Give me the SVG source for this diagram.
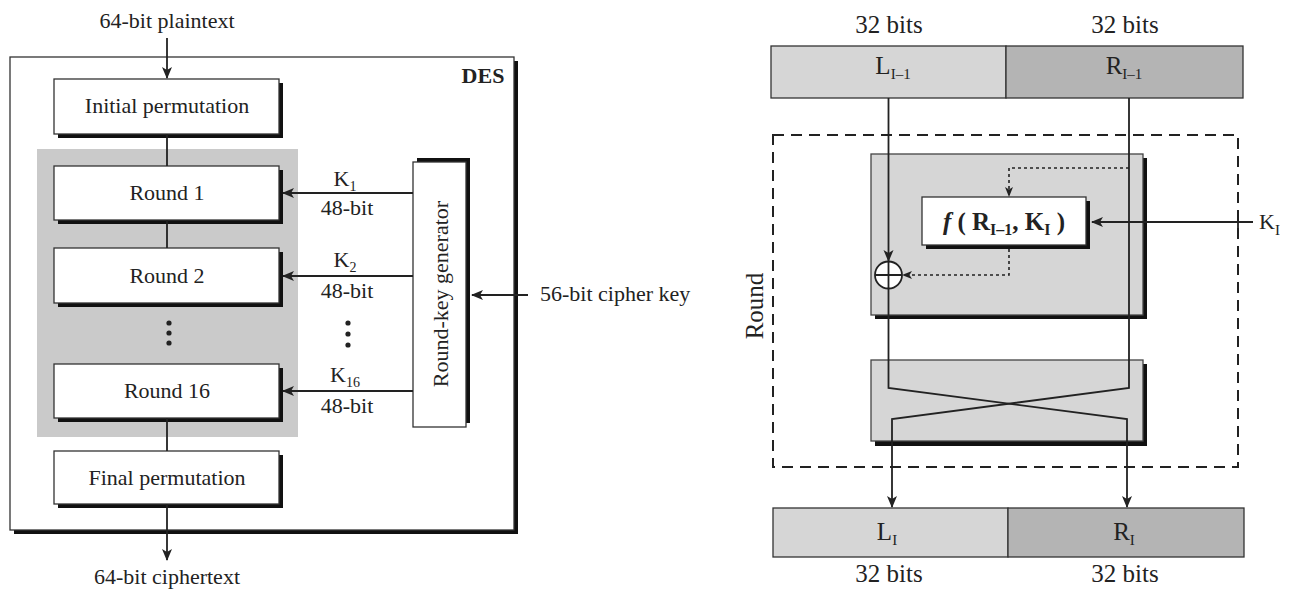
<svg xmlns="http://www.w3.org/2000/svg" width="1297" height="591" viewBox="0 0 1297 591">
<style>
.t{font-family:"Liberation Serif","Times New Roman",serif;font-size:22px;fill:#222}
.tr{font-size:25px}
.b{font-weight:bold}
.box{fill:#fff;stroke:#333;stroke-width:1.3}
.gbox{fill:#d6d6d6;stroke:#444;stroke-width:1.3}
.sh{fill:#111}
.ln{stroke:#222;stroke-width:1.8;fill:none}
.dl{stroke:#222;stroke-width:1.6;stroke-dasharray:3 3;fill:none}
.dash{stroke:#222;stroke-width:2;stroke-dasharray:11 7;fill:none}
</style>
<defs>
<marker id="ah" markerUnits="userSpaceOnUse" markerWidth="12" markerHeight="12" refX="11" refY="6" orient="auto"><path d="M0,1 L12,6 L0,11 L3,6 z" fill="#222"/></marker>
<marker id="ahs" markerUnits="userSpaceOnUse" markerWidth="10" markerHeight="10" refX="9" refY="5" orient="auto"><path d="M0,1 L10,5 L0,9 L2.5,5 z" fill="#222"/></marker>
</defs>

<!-- LEFT: DES overview -->
<g id="des">
<rect class="sh" x="14" y="61" width="504" height="473"/>
<rect class="box" x="10" y="57" width="504" height="473"/>
<text class="t b" x="483" y="83" text-anchor="middle">DES</text>
</g>
<rect id="rounds-area" x="37" y="149" width="261" height="288" fill="#cacaca"/>
<g id="initial-permutation">
<rect class="sh" x="58" y="83" width="225" height="55"/>
<rect class="box" x="54" y="79" width="225" height="55"/>
<text class="t" x="167" y="113" text-anchor="middle">Initial permutation</text>
</g>
<g id="round1">
<rect class="sh" x="58" y="170" width="225" height="54"/>
<rect class="box" x="54" y="166" width="225" height="54"/>
<text class="t" x="167" y="200" text-anchor="middle">Round 1</text>
</g>
<g id="round2">
<rect class="sh" x="58" y="252" width="225" height="55"/>
<rect class="box" x="54" y="248" width="225" height="55"/>
<text class="t" x="167" y="283" text-anchor="middle">Round 2</text>
</g>
<g id="round-dots" fill="#222">
<circle cx="169" cy="323" r="2.6"/><circle cx="169" cy="333" r="2.6"/><circle cx="169" cy="343" r="2.6"/>
</g>
<g id="round16">
<rect class="sh" x="58" y="368" width="225" height="54"/>
<rect class="box" x="54" y="364" width="225" height="54"/>
<text class="t" x="167" y="398" text-anchor="middle">Round 16</text>
</g>
<g id="final-permutation">
<rect class="sh" x="58" y="455" width="225" height="53"/>
<rect class="box" x="54" y="451" width="225" height="53"/>
<text class="t" x="167" y="485" text-anchor="middle">Final permutation</text>
</g>
<g id="round-key-generator">
<rect class="sh" x="417" y="158" width="53" height="265"/>
<rect class="box" x="413" y="162" width="53" height="265"/>
<text class="t" x="441" y="301" text-anchor="middle" transform="rotate(-90 441 294)">Round-key generator</text>
</g>
<g id="left-labels">
<text class="t" x="167" y="28" text-anchor="middle">64-bit plaintext</text>
<text class="t" x="167" y="584" text-anchor="middle">64-bit ciphertext</text>
<text class="t" x="540" y="301">56-bit cipher key</text>
<text class="t" x="345" y="186" text-anchor="middle">K<tspan dy="5" font-size="14">1</tspan></text>
<text class="t" x="347" y="215" text-anchor="middle">48-bit</text>
<text class="t" x="345" y="267" text-anchor="middle">K<tspan dy="5" font-size="14">2</tspan></text>
<text class="t" x="347" y="298" text-anchor="middle">48-bit</text>
<text class="t" x="345" y="382" text-anchor="middle">K<tspan dy="5" font-size="14">16</tspan></text>
<text class="t" x="347" y="413" text-anchor="middle">48-bit</text>
<g fill="#222"><circle cx="348" cy="323" r="2.6"/><circle cx="348" cy="334" r="2.6"/><circle cx="348" cy="345" r="2.6"/></g>
</g>

<!-- RIGHT: one round -->
<g id="input-halves">
<rect x="771" y="46" width="235" height="52" fill="#d6d6d6" stroke="#333" stroke-width="1.3"/>
<rect x="1006" y="46" width="237" height="52" fill="#b4b4b4" stroke="#333" stroke-width="1.3"/>
<text class="t tr" x="893" y="74" text-anchor="middle">L<tspan dy="5" font-size="15">I–1</tspan></text>
<text class="t tr" x="1124" y="74" text-anchor="middle">R<tspan dy="5" font-size="15">I–1</tspan></text>
<text class="t tr" x="889" y="33" text-anchor="middle">32 bits</text>
<text class="t tr" x="1125" y="33" text-anchor="middle">32 bits</text>
</g>
<g id="round-frame">
<rect class="dash" x="773" y="135" width="465" height="332"/>
<text class="t tr" x="756" y="313" text-anchor="middle" transform="rotate(-90 756 306)">Round</text>
</g>
<g id="mixer">
<rect class="sh" x="875" y="158" width="272" height="161"/>
<rect class="gbox" x="871" y="154" width="272" height="161"/>
</g>
<g id="function-f">
<rect class="sh" x="926" y="201" width="164" height="48"/>
<rect class="box" x="922" y="197" width="164" height="48"/>
<text class="t tr b" x="1004" y="230" text-anchor="middle" font-size="27"><tspan font-style="italic">f</tspan> ( R<tspan dy="5" font-size="16">I–1</tspan><tspan dy="-5">, K</tspan><tspan dy="5" font-size="16">I</tspan><tspan dy="-5"> )</tspan></text>
</g>
<g id="swapper">
<rect class="sh" x="875" y="364" width="272" height="82"/>
<rect class="gbox" x="871" y="360" width="272" height="81"/>
</g>
<g id="xor">
<circle cx="888.5" cy="275" r="13.5" fill="#fff" stroke="#222" stroke-width="1.8"/>
<path class="ln" d="M875,275 H902 M888.5,261.5 V288.5"/>
</g>
<g id="output-halves">
<rect x="773" y="508" width="235" height="49" fill="#d6d6d6" stroke="#333" stroke-width="1.3"/>
<rect x="1008" y="508" width="236" height="49" fill="#b4b4b4" stroke="#333" stroke-width="1.3"/>
<text class="t tr" x="887" y="540" text-anchor="middle">L<tspan dy="5" font-size="15">I</tspan></text>
<text class="t tr" x="1124" y="540" text-anchor="middle">R<tspan dy="5" font-size="15">I</tspan></text>
<text class="t tr" x="889" y="582" text-anchor="middle">32 bits</text>
<text class="t tr" x="1125" y="582" text-anchor="middle">32 bits</text>
</g>
<text id="ki-label" class="t" x="1259" y="229" font-size="24">K<tspan dy="6" font-size="15">I</tspan></text>

<g id="connectors">
<path class="ln" d="M167,38 V78" marker-end="url(#ah)"/>
<path class="ln" d="M167,134 V166 M167,220 V248 M167,418 V451"/>
<path class="ln" d="M167,504 V560" marker-end="url(#ah)"/>
<path class="ln" d="M413,193 H283" marker-end="url(#ah)"/>
<path class="ln" d="M413,276 H283" marker-end="url(#ah)"/>
<path class="ln" d="M413,391 H283" marker-end="url(#ah)"/>
<path class="ln" d="M528,295 H472" marker-end="url(#ah)"/>
<path class="ln" d="M888.5,98 V261" marker-end="url(#ah)"/>
<path class="ln" d="M888.5,288.5 V388 L1127,419 V507" marker-end="url(#ah)"/>
<path class="ln" d="M1129,98 V388 L892,419 V507" marker-end="url(#ah)"/>
<path class="dl" d="M1129,168 H1009 V196" marker-end="url(#ahs)"/>
<path class="dl" d="M1009,249 V275 H903" marker-end="url(#ahs)"/>
<path class="ln" d="M1253,222 H1092" marker-end="url(#ah)"/>
<path class="ln" d="M1238,211 V233"/>
</g>
</svg>
